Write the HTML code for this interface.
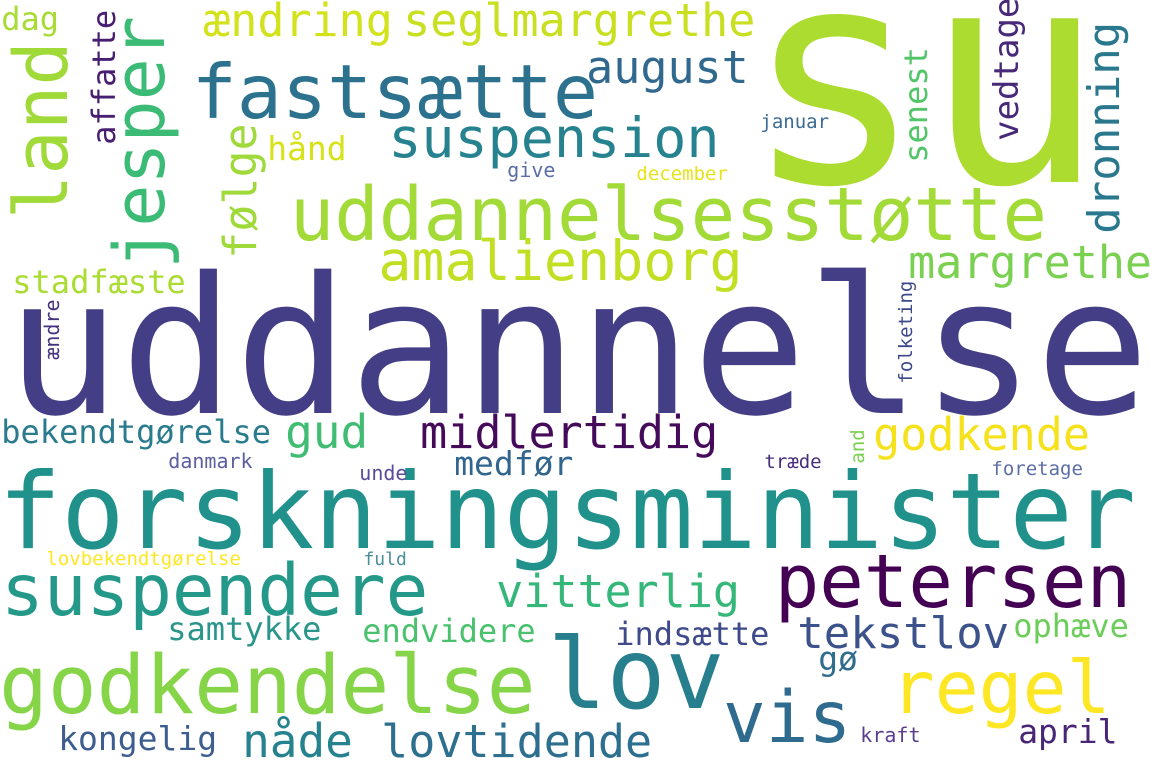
<!DOCTYPE html>
<html><head><meta charset="utf-8"><style>
html,body{margin:0;padding:0;background:#fff;}
svg{display:block;}
text{font-family:"DejaVu Sans Mono","Liberation Mono",monospace;}
</style></head><body>
<svg id="cloud" width="1155" height="770" viewBox="0 0 1155 770" xmlns="http://www.w3.org/2000/svg">
<rect width="1155" height="770" fill="#ffffff"/>
</svg>
<script>
// word-cloud data: words and their weights (font size ~ frequency)
const words = ["uddannelse","forskningsminister","su","dag","ændring","seglmargrethe","land","jesper","affatte","fastsætte","suspension","følge","hånd","give","uddannelsesstøtte","amalienborg","stadfæste","ændre","august","januar","december","senest","vedtage","dronning","margrethe","folketing","bekendtgørelse","gud","midlertidig","danmark","medfør","unde","lovbekendtgørelse","fuld","suspendere","vitterlig","samtykke","endvidere","godkendelse","lov","kongelig","nåde","lovtidende","godkende","and","træde","foretage","petersen","tekstlov","indsætte","ophæve","gø","regel","vis","kraft","april"];
const weights = [190,105,300,32,45,45,74,70,32,75,55,45,33,20,74,55,32,20,45,19,19,32,34,44,45,19,32,46,45,20,33,20,19,18,71,45,32,32,81,98,33,46,45,45,19,19,19,74,44,32,32,33,73,71,20,33];
const colors = ["#433e85","#21918c","#addc30","#a8db34","#d2e21b","#c8e020","#a0da39","#3bbb75","#481f70","#2c728e","#26828e","#9fda3a","#d8e219","#5c6ea6","#a2da37","#c2df23","#aadc32","#46337e","#31688e","#3b6b93","#e7e419","#52c569","#482878","#2a788e","#7ad151","#3e4989","#2a7b8e","#40bd72","#450b5a","#5b5f9e","#32658e","#5b4c9a","#fde725","#4a8f9a","#24998a","#35b779","#2a968b","#4ac16d","#86d549","#277f8e","#3d5d8f","#26828e","#2d6f8e","#f5e21c","#7ad151","#472d7b","#5c6ea6","#440154","#3b528b","#3e4a89","#6ccd5a","#2f6c8e","#fde725","#2f6b8e","#5a3d8e","#482576"];
// layout (placement, not data): [inkStart, baseline, vertical]
// horizontal: inkStart = left x, baseline = y ; vertical: inkStart = bottom y, baseline = x
const layout = [[22,413,0],[7,548,0],[769,182,0],[4,30,0],[207,36,0],[407,36,0],[213,67,1],[263,164,1],[142,115,1],[198,118,0],[393,157,0],[255,256,1],[270,160,0],[509,177,0],[296,240,0],[383,280,0],[15,293,0],[358,59,1],[590,83,0],[762,128,0],[638,180,0],[160,927,1],[138,1018,1],[230,1119,1],[912,278,0],[382,912,1],[4,443,0],[289,448,0],[424,448,0],[170,468,0],[457,475,0],[361,480,0],[48,565,0],[365,565,0],[7,615,0],[500,607,0],[170,640,0],[365,642,0],[6,713,0],[556,708,0],[61,750,0],[246,757,0],[385,757,0],[877,450,0],[462,864,1],[766,468,0],[993,475,0],[781,607,0],[801,648,0],[618,645,0],[1016,637,0],[821,670,0],[897,713,0],[729,742,0],[862,742,0],[1021,743,0]];

const svg = document.getElementById('cloud');
const NS = 'http://www.w3.org/2000/svg';
for (let i = 0; i < words.length; i++) {
  const fs = weights[i];
  const [s, b, v] = layout[i];
  const t = document.createElementNS(NS, 'text');
  t.textContent = words[i];
  t.setAttribute('font-size', fs);
  t.setAttribute('fill', colors[i]);
  const start = s - 0.085 * fs;
  if (v) {
    t.setAttribute('x', 0);
    t.setAttribute('y', 0);
    t.setAttribute('transform', 'translate(' + b + ',' + (s + 0.085 * fs) + ') rotate(-90)');
  } else {
    t.setAttribute('x', start);
    t.setAttribute('y', b);
  }
  
  
  svg.appendChild(t);
}
</script>
</body></html>
